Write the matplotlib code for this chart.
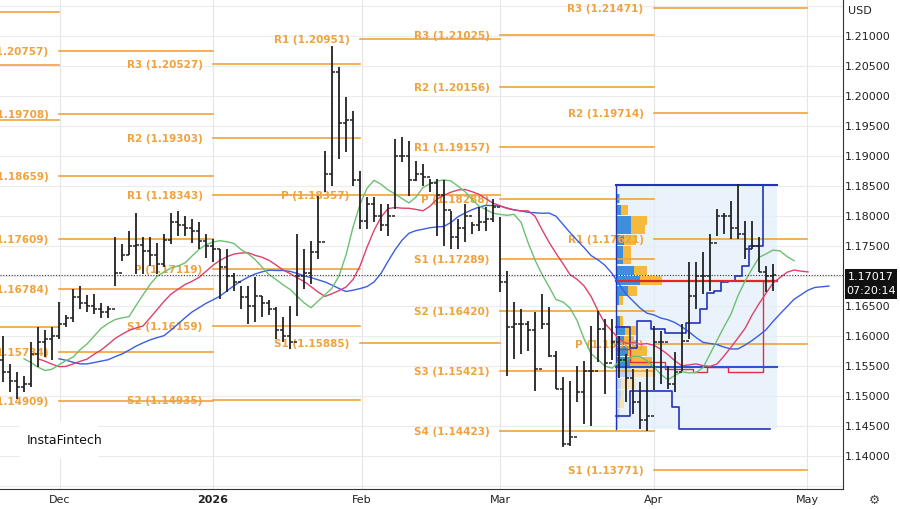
import numpy as np
import matplotlib
matplotlib.use("Agg")
import matplotlib.pyplot as plt
from matplotlib.patches import Rectangle

# ---------------- data ----------------
highs = [1.1600,1.1554,1.1540,1.1534,1.1590,1.1615,1.1610,1.1615,1.1657,1.1635,
         1.1679,1.1684,1.1668,1.1670,1.1655,1.1650,1.1765,1.1754,1.1775,1.1805,
         1.1765,1.1765,1.1755,1.1770,1.1805,1.1809,1.1800,1.1795,1.1790,1.1770,
         1.1762,1.1745,1.1745,1.1705,1.1684,1.1684,1.1699,1.1667,1.1660,1.1648,
         1.1632,1.1650,1.1770,1.1745,1.1759,1.1834,1.1909,1.2084,1.2049,1.1999,
         1.1975,1.1875,1.1832,1.1832,1.1820,1.1820,1.1929,1.1932,1.1925,1.1892,
         1.1887,1.1862,1.1862,1.1860,1.1809,1.1795,1.1820,1.1790,1.1815,1.1815,
         1.1829,1.1799,1.1709,1.1657,1.1645,1.1625,1.1640,1.1670,1.1648,1.1575,
         1.1532,1.1525,1.1550,1.1559,1.1617,1.1642,1.1629,1.1629,1.1600,1.1570,
         1.1545,1.1524,1.1545,1.1617,1.1609,1.1550,1.1574,1.1620,1.1724,1.1724,
         1.1740,1.1770,1.1812,1.1805,1.1825,1.1854,1.1792,1.1792,1.1765,1.1717,
         1.1720]
lows = [1.1524,1.1507,1.1495,1.1507,1.1515,1.1549,1.1565,1.1560,1.1595,1.1615,
        1.1624,1.1645,1.1640,1.1636,1.1630,1.1630,1.1684,1.1725,1.1735,1.1704,
        1.1704,1.1717,1.1704,1.1715,1.1754,1.1767,1.1767,1.1755,1.1745,1.1730,
        1.1724,1.1662,1.1673,1.1675,1.1645,1.1620,1.1624,1.1632,1.1635,1.1595,
        1.1590,1.1578,1.1634,1.1679,1.1687,1.1729,1.1840,1.1850,1.1895,1.1907,
        1.1850,1.1779,1.1779,1.1790,1.1775,1.1766,1.1812,1.1890,1.1834,1.1859,
        1.1850,1.1840,1.1767,1.1750,1.1745,1.1745,1.1757,1.1770,1.1775,1.1775,
        1.1790,1.1674,1.1534,1.1562,1.1570,1.1575,1.1509,1.1612,1.1565,1.1512,
        1.1415,1.1417,1.1490,1.1454,1.1450,1.1557,1.1504,1.1560,1.1530,1.1490,
        1.1470,1.1445,1.1442,1.1510,1.1520,1.1512,1.1507,1.1542,1.1595,1.1645,
        1.1670,1.1675,1.1767,1.1770,1.1762,1.1762,1.1729,1.1745,1.1707,1.1674,
        1.1675]
closes = [1.1540,1.1525,1.1515,1.1520,1.1570,1.1590,1.1595,1.1600,1.1620,1.1630,
          1.1665,1.1655,1.1650,1.1645,1.1640,1.1645,1.1705,1.1735,1.1750,1.1752,
          1.1742,1.1735,1.1720,1.1760,1.1790,1.1785,1.1780,1.1775,1.1758,1.1750,
          1.1745,1.1715,1.1700,1.1690,1.1665,1.1650,1.1667,1.1655,1.1645,1.1610,
          1.1600,1.1590,1.1700,1.1705,1.1740,1.1757,1.1870,1.2040,1.1955,1.1960,
          1.1860,1.1792,1.1820,1.1800,1.1785,1.1800,1.1900,1.1900,1.1860,1.1870,
          1.1865,1.1855,1.1835,1.1810,1.1765,1.1780,1.1800,1.1785,1.1790,1.1795,
          1.1815,1.1690,1.1615,1.1620,1.1620,1.1610,1.1545,1.1620,1.1567,1.1512,
          1.1420,1.1432,1.1507,1.1542,1.1542,1.1612,1.1555,1.1590,1.1560,1.1530,
          1.1490,1.1460,1.1467,1.1590,1.1590,1.1520,1.1540,1.1592,1.1667,1.1700,
          1.1700,1.1755,1.1800,1.1800,1.1780,1.1770,1.1745,1.1750,1.1707,1.1700,
          1.17017]
opens = [1.1560] + closes[:-1]

last_price = 1.17017
countdown = "07:20:14"

price_ticks = [1.140, 1.145, 1.150, 1.155, 1.160, 1.165, 1.175,
               1.180, 1.185, 1.190, 1.195, 1.200, 1.205, 1.210]

month_labels = ["Dec", "2026", "Feb", "Mar", "Apr", "May"]
month_pos = [8.1, 30.0, 51.3, 71.0, 93.0, 114.9]
seg_edges = [-5, 8.0, 30.0, 51.0, 71.0, 93.0, 114.9]

piv_names = [
    [None, None, None, None],
    ["R3", "R2", "R1", "P", "S1", "S2", "S3"],
    ["R3", "R2", "R1", "P", "S1", "S2"],
    ["R1", "P", "S1"],
    ["R3", "R2", "R1", "P", "S1", "S2", "S3", "S4"],
    ["R3", "R2", "R1", "P", "S1"],
]
piv_values = [
    [1.2140, 1.2052, 1.1960, 1.1615],
    [1.20757, 1.19708, 1.18659, 1.17609, 1.16784, 1.15734, 1.14909],
    [1.20527, 1.19303, 1.18343, 1.17119, 1.16159, 1.14935],
    [1.20951, 1.18357, 1.15885],
    [1.21025, 1.20156, 1.19157, 1.18288, 1.17289, 1.16420, 1.15421, 1.14423],
    [1.21471, 1.19714, 1.17621, 1.15864, 1.13771],
]

vp_start, vp_end = 87.6, 110.5
vp_top, vp_bottom = 1.1852, 1.1445
vp_poc, vp_val = 1.1692, 1.1549
vp_prices = [1.1829,1.1810,1.1793,1.1777,1.1760,1.1743,1.1727,1.1709,1.1692,1.1675,
             1.1659,1.1625,1.1609,1.1592,1.1575,1.1557,1.1540,1.1520,1.1503,1.1487,
             1.1470,1.1453]
vp_up = [3,5,15,15,8,7,7,18,24,12,3,4,9,8,12,14,15,5,5,4,3,2]
vp_total = [4,12,31,29,20,15,15,31,46,21,7,7,20,18,31,36,40,20,8,8,4,2]
vp_in_va = [1,1,1,1,1,1,1,1,1,1,1,1,1,1,1,1,0,0,0,0,0,0]

dev_idx = list(range(88, 111))
dev_vah = [1.1615,1.1615,1.1580,1.1625,1.1625,1.1612,1.1612,1.1605,1.1605,1.1605,
           1.1622,1.1622,1.1645,1.1672,1.1675,1.1690,1.1692,1.1700,1.1717,1.1750,
           1.1750,1.1852,1.1852]
dev_val = [1.1467,1.1467,1.1509,1.1509,1.1509,1.1509,1.1509,1.1509,1.1482,1.1445,
           1.1445,1.1445,1.1445,1.1445,1.1445,1.1445,1.1445,1.1445,1.1445,1.1445,
           1.1445,1.1445,1.1445]
dev_poc = [1.1579,1.1579,1.1557,1.1557,1.1557,1.1557,1.1557,1.1545,1.1545,1.1545,
           1.1545,1.1540,1.1540,1.1549,1.1549,1.1549,1.1540,1.1540,1.1540,1.1540,
           1.1540,1.1692,1.1692]

def smma(x, n):
    out = np.empty(len(x))
    out[0] = x[0]
    for t in range(1, len(x)):
        out[t] = (out[t-1] * (n - 1) + x[t]) / n
    return out

H = np.array(highs); L = np.array(lows); C = np.array(closes); O = np.array(opens)
idx = np.arange(len(C))
med = (H + L) / 2

ORANGE = "#f0a23c"
YLO, YHI = 1.13450, 1.21617
fig = plt.figure(figsize=(9, 5.1), dpi=100)
ax = fig.add_axes([0, 20/510, 843/900, 490/510])
ax.set_xlim(-0.43, 120)
ax.set_ylim(YLO, YHI)

for yv in np.arange(1.135, 1.2151, 0.005):
    ax.axhline(yv, color="#ececec", lw=0.8, zorder=0)
for xv in month_pos:
    ax.axvline(xv, color="#e6e6e6", lw=0.8, zorder=0)

ax.add_patch(Rectangle((vp_start, vp_bottom), vp_end - vp_start, vp_top - vp_bottom,
                       facecolor="#e3effa", edgecolor="none", alpha=0.75, zorder=1))
scale = 1 / 7.0
hstep = 0.00155
for p, u, t, va in zip(vp_prices, vp_up, vp_total, vp_in_va):
    cb = "#3d8fdc" if va else "#b9d6f2"
    co = "#f5b93c" if va else "#f7e3b5"
    ax.barh(p, u * scale, left=vp_start, height=hstep, color=cb, zorder=2)
    ax.barh(p, (t - u) * scale, left=vp_start + u * scale, height=hstep, color=co, zorder=2)

for k in range(len(piv_values)):
    x0, x1 = seg_edges[k], seg_edges[k + 1]
    for name, v in zip(piv_names[k], piv_values[k]):
        ax.plot([x0, x1], [v, v], color=ORANGE, lw=1.2, zorder=2)
        if name is not None:
            ax.text(x0 - 1.5, v, f"{name} ({v:.5f})", color=ORANGE, fontsize=7.5,
                    fontweight="bold", ha="right", va="center", zorder=3, clip_on=True)

xs_dev = np.array(dev_idx) - 0.5
ax.step(xs_dev, dev_vah, where="post", color="#2233bb", lw=1.2, zorder=4)
ax.step(xs_dev, dev_val, where="post", color="#2233bb", lw=1.2, zorder=4)
ax.step(xs_dev, dev_poc, where="post", color="#e03040", lw=1.0, zorder=4)
ax.plot([vp_start, vp_end], [vp_top, vp_top], color="#2233bb", lw=1.5, zorder=4)
ax.plot([vp_start, vp_end], [vp_val, vp_val], color="#2a55d0", lw=1.5, zorder=4)
ax.plot([vp_start, vp_end], [vp_poc, vp_poc], color="#e02828", lw=1.6, zorder=4)
ax.plot([vp_start, vp_start], [vp_bottom, vp_top], color="#2233bb", lw=1.0, zorder=4)

jaw = smma(med, 13); teeth = smma(med, 8); lips = smma(med, 5)
ax.plot(idx + 8, jaw, color="#3a5ee0", lw=1.0, zorder=5)
ax.plot(idx + 5, teeth, color="#e0406a", lw=1.0, zorder=5)
ax.plot(idx + 3, lips, color="#6cc070", lw=1.0, zorder=5)

ax.vlines(idx, L, H, color="#222222", lw=1.3, zorder=6)
ax.hlines(O, idx - 0.4, idx, color="#222222", lw=1.1, zorder=6)
ax.hlines(C, idx, idx + 0.4, color="#222222", lw=1.1, zorder=6)

ax.axhline(last_price, color="#333333", lw=0.8, ls=(0, (1, 1.5)), zorder=5)

ax.set_xticks([])
ax.set_yticks([])
for s in ["top", "left"]:
    ax.spines[s].set_visible(False)
ax.spines["right"].set_color("#333333")
ax.spines["bottom"].set_color("#333333")

def yfig(v):
    return 20/510 + (v - YLO) / (YHI - YLO) * 490/510
for yv in price_ticks:
    fig.text(868/900, yfig(yv), f"{yv:.5f}", fontsize=8, color="#222222",
             ha="center", va="center")
fig.text(860/900, 1 - 11/510, "USD", fontsize=8, color="#222222", ha="center", va="center")
fig.patches.append(Rectangle((845/900, yfig(last_price) - 24/510), 52/900, 30/510,
                             transform=fig.transFigure, facecolor="#111111", edgecolor="none"))
fig.text(871/900, yfig(last_price) - 1/510, f"{last_price:.5f}", fontsize=8, color="white",
         ha="center", va="center")
fig.text(871/900, yfig(last_price) - 15/510, countdown, fontsize=8, color="white",
         ha="center", va="center")

for lab, p in zip(month_labels, month_pos):
    xf = (p + 0.43) / 120.43 * 843/900
    fig.text(xf, 10/510, lab, fontsize=8, color="#222222", ha="center", va="center",
             fontweight="bold" if lab == "2026" else "normal")

fig.patches.append(Rectangle((20/900, 50/510), 78/900, 38/510, transform=fig.transFigure,
                             facecolor="white", edgecolor="none", zorder=10))
fig.text(27/900, 69/510, "InstaFintech", fontsize=9, color="#111111", ha="left",
         va="center", zorder=11)

fig.text(874/900, 10/510, "⚙", fontsize=9, color="#444444", ha="center", va="center")

fig.savefig("out.png", dpi=100)
